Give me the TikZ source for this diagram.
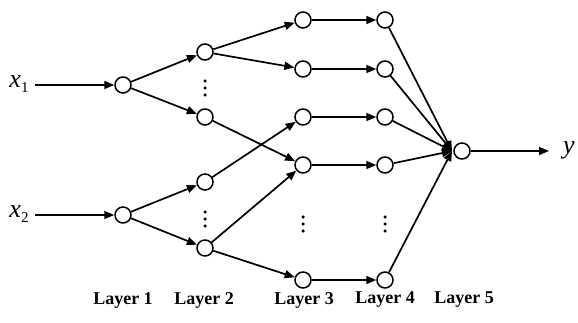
\documentclass[tikz,border=0pt]{standalone}
\usepackage{fontspec}
\setmainfont{Liberation Serif}
\usetikzlibrary{arrows.meta}
\newcommand{\subsc}[1]{\raisebox{-5pt}{\fontsize{15}{16}\selectfont\upshape #1}}
\begin{document}
\begin{tikzpicture}[x=1pt,y=-1pt,
  neuron/.style={circle,draw,line width=1.5pt,minimum size=16pt,inner sep=0pt,fill=white},
  conn/.style={line width=1.7pt,-{Triangle[length=10pt,width=8pt]}},
  lab/.style={font=\fontsize{18}{20}\selectfont\bfseries,inner sep=0pt},
  var/.style={font=\fontsize{26}{28}\selectfont\itshape,inner sep=0pt},
  dotm/.style={circle,fill,inner sep=0pt,minimum size=3.5pt}]
\useasboundingbox (0,0) rectangle (578,323);
% layer 1
\node[neuron] (a1) at (123,85) {};
\node[neuron] (a2) at (123,215) {};
% layer 2
\node[neuron] (b1) at (205,52) {};
\node[neuron] (b2) at (205,117) {};
\node[neuron] (b3) at (205,182) {};
\node[neuron] (b4) at (205,248) {};
% layer 3
\node[neuron] (c1) at (303,20) {};
\node[neuron] (c2) at (303,69) {};
\node[neuron] (c3) at (303,117) {};
\node[neuron] (c4) at (303,165) {};
\node[neuron] (c5) at (303,280) {};
% layer 4
\node[neuron] (d1) at (385,20) {};
\node[neuron] (d2) at (385,69) {};
\node[neuron] (d3) at (385,117) {};
\node[neuron] (d4) at (385,165) {};
\node[neuron] (d5) at (385,280) {};
% layer 5
\node[neuron] (e) at (462,151) {};
\coordinate (ein) at (452,151);
% inputs / output
\node[var] (x1) at (19,84) {x\subsc{1}};
\node[var] (x2) at (19,214) {x\subsc{2}};
\node[var] (y) at (569,150) {y};
\coordinate (x1e) at (35,85);
\coordinate (x2e) at (35,215);
\coordinate (ye) at (549,151);
% dots
\foreach \n/\xx/\yy in {p/205/88, q/205/219, r/303/224, s/385/224}{
  \node[dotm] (\n a) at (\xx,\yy-7) {};
  \node[dotm] (\n b) at (\xx,\yy) {};
  \node[dotm] (\n c) at (\xx,\yy+7) {};
}
% connections
\draw[conn] (x1e) -- (a1);
\draw[conn] (x2e) -- (a2);
\draw[conn] (a1) -- (b1);
\draw[conn] (a1) -- (b2);
\draw[conn] (a2) -- (b3);
\draw[conn] (a2) -- (b4);
\draw[conn] (b1) -- (c1);
\draw[conn] (b1) -- (c2);
\draw[conn] (b2) -- (c4);
\draw[conn] (b3) -- (c3);
\draw[conn] (b4) -- (c4);
\draw[conn] (b4) -- (c5);
\foreach \i in {1,...,5}{
  \draw[conn] (c\i) -- (d\i);
  \draw[conn] (d\i) -- (ein);
}
\draw[conn] (e) -- (ye);
% labels
\node[lab] (l1) at (123,300) {Layer 1};
\node[lab] (l2) at (204,300) {Layer 2};
\node[lab] (l3) at (304,300) {Layer 3};
\node[lab] (l4) at (385,300) {Layer 4};
\node[lab] (l5) at (464,300) {Layer 5};
\end{tikzpicture}
\end{document}
